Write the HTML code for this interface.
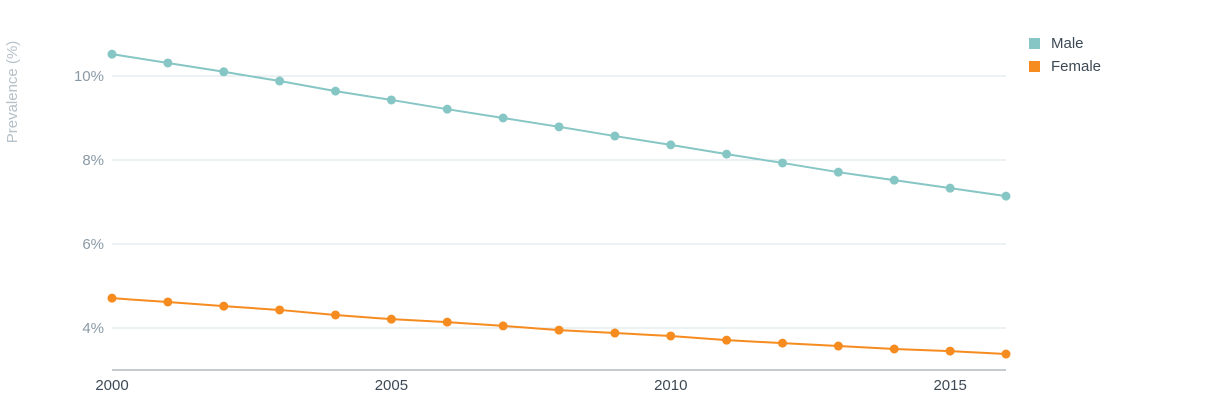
<!DOCTYPE html>
<html><head><meta charset="utf-8"><style>
body{margin:0;background:#fff;width:1230px;height:402px;overflow:hidden;font-family:"Liberation Sans",sans-serif}
</style></head><body>
<svg id="chart" width="1230" height="402" xmlns="http://www.w3.org/2000/svg">
<g id="grid"></g>
<g id="yticks"></g>
<g id="xticks"></g>
<line x1="112" x2="1006" y1="370" y2="370" stroke="#8a9aa6" stroke-width="1"/>
<text transform="translate(17,92) rotate(-90)" text-anchor="middle" font-size="15" fill="#b5c0c8">Prevalence (%)</text>
<g id="series"></g>
<g>
<g><rect x="1029" y="38" width="11" height="11" fill="#86c6c4"/><text x="1051" y="48" font-size="15" fill="#3d4a55">Male</text></g>
<g><rect x="1029" y="61" width="11" height="11" fill="#f68b1f"/><text x="1051" y="71" font-size="15" fill="#3d4a55">Female</text></g>
</g>
</svg>
<script>
const years=[2000,2001,2002,2003,2004,2005,2006,2007,2008,2009,2010,2011,2012,2013,2014,2015,2016];
const male=[10.52,10.31,10.10,9.88,9.64,9.43,9.21,9.00,8.79,8.57,8.36,8.14,7.93,7.71,7.52,7.33,7.14];
const female=[4.71,4.62,4.52,4.43,4.31,4.21,4.14,4.05,3.95,3.88,3.81,3.71,3.64,3.57,3.50,3.45,3.38];
const yTicks=[4,6,8,10];
const xTicks=[2000,2005,2010,2015];
const NS="http://www.w3.org/2000/svg";
const xs=v=>112+(v-2000)*(1006-112)/16;
const ys=v=>328-(v-4)*42;
function mk(t,a,p){const e=document.createElementNS(NS,t);for(const k in a)e.setAttribute(k,a[k]);p.appendChild(e);return e;}
const grid=document.getElementById('grid'),yt=document.getElementById('yticks'),xt=document.getElementById('xticks'),sr=document.getElementById('series');
yTicks.forEach(v=>{
 const l=mk('line',{x1:112,x2:1006,y1:ys(v),y2:ys(v),stroke:'#d9e3ea','stroke-width':1},grid);
 
 
 const t=mk('text',{x:104,y:ys(v)+5,'text-anchor':'end','font-size':15,fill:'#8a9aa6'},yt);
 t.textContent=v+'%';
 
 
});
xTicks.forEach(v=>{
 const t=mk('text',{x:xs(v),y:390,'text-anchor':'middle','font-size':15,fill:'#3d4a55'},xt);
 t.textContent=v;
 
 
});
[[male,'#86c6c4','male'],[female,'#f68b1f','female']].forEach(([d,c,n])=>{
 const p=mk('polyline',{points:d.map((v,i)=>xs(years[i])+','+ys(v)).join(' '),fill:'none',stroke:c,'stroke-width':2},sr);
 
 
 d.forEach((v,i)=>{
  const ci=mk('circle',{cx:xs(years[i]),cy:ys(v),r:4.5,fill:c},sr);
  
  
 });
});
</script>
</body></html>
